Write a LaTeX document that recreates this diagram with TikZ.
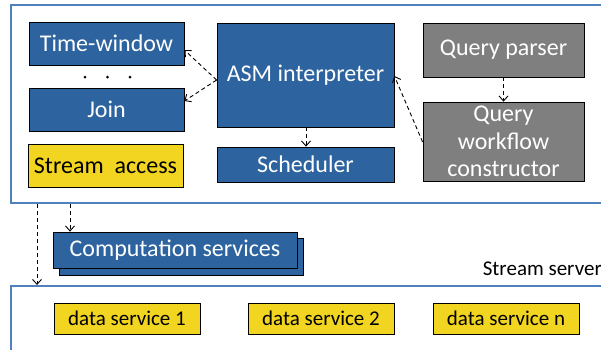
\documentclass[tikz,border=0pt]{standalone}
\usepackage{fontspec}
\setmainfont{Carlito}
\usetikzlibrary{arrows.meta}
\definecolor{boxblue}{HTML}{2D64A0}
\definecolor{boxgray}{HTML}{7F7F7F}
\definecolor{boxyellow}{HTML}{F2D520}
\definecolor{frameblue}{HTML}{4F81BD}
\tikzset{
  box/.style={draw=black, line width=0.8pt, inner sep=0pt, align=center},
  bluebox/.style={box, fill=boxblue, text=white, font=\fontsize{24}{27}\selectfont},
  graybox/.style={box, fill=boxgray, text=white, font=\fontsize{24}{27.5}\selectfont},
  yellowbox/.style={box, fill=boxyellow, text=black, font=\fontsize{24}{27}\selectfont},
  dsbox/.style={box, fill=boxyellow, text=black, font=\fontsize{21}{24}\selectfont, minimum width=146pt, minimum height=31pt},
  frame/.style={draw=frameblue, line width=1.5pt},
  dasharrow/.style={draw=black, line width=0.9pt, dash pattern=on 4pt off 3pt, -{Straight Barb[length=5pt,width=9pt]}}
}
\begin{document}
\begin{tikzpicture}[x=1pt,y=-1pt]
\useasboundingbox (0,0) rectangle (601,349);
% frames
\draw[frame] (620,5) -- (11,5) -- (11,203) -- (620,203);
\draw[frame] (620,286) -- (11,286) -- (11,360);
% top boxes
\node[bluebox, minimum width=155pt, minimum height=43pt] (tw) at (106.5,43.5) {Time-window};
\node[bluebox, minimum width=155pt, minimum height=43pt] (join) at (106.5,109.5) {Join};
\node[yellowbox, minimum width=155pt, minimum height=43pt] (sa) at (105.5,165.5) {Stream\ \ access};
\node[bluebox, minimum width=177pt, minimum height=104pt] (asm) at (305.5,75) {ASM interpreter};
\node[bluebox, minimum width=177pt, minimum height=35pt] (sch) at (305.5,164.5) {Scheduler};
\node[graybox, minimum width=161pt, minimum height=54pt] (qp) at (503.5,50) {Query parser};
\node[graybox, minimum width=161pt, minimum height=79pt] (qwc) at (503.5,141.5) {Query\\workflow\\constructor};
% dots
\fill (85,77) circle (1.5pt) (107.5,77) circle (1.5pt) (130,77) circle (1.5pt);
% computation services
\node[bluebox, minimum width=244pt, minimum height=37pt] (csback) at (181,256.5) {};
\node[bluebox, minimum width=244pt, minimum height=36pt] (cs) at (175,250) {Computation services};
% stream server label
\node[anchor=east, inner sep=0pt, font=\fontsize{21}{24}\selectfont] (ss) at (602,269) {Stream server};
% data services
\node[dsbox] (ds1) at (127,318.5) {data service 1};
\node[dsbox] (ds2) at (321,318.5) {data service 2};
\node[dsbox] (dsn) at (506,318.5) {data service n};
% connector end points
\coordinate (f1) at (37,204);
\coordinate (f1e) at (37,285);
\coordinate (f2) at (70,204);
% arrows
\draw[dasharrow] (asm.west |- 0,80) -- (tw.east |- 0,50);
\draw[dasharrow] (asm.west |- 0,80) -- (join.east |- 0,101);
\draw[dasharrow] (qp.south) -- (qwc.north);
\draw[dasharrow] (qwc.west |- 0,142) -- (asm.east |- 0,76);
\draw[dasharrow] (asm.south -| 306,0) -- (sch.north -| 306,0);
\draw[dasharrow] (f1) -- (f1e);
\draw[dasharrow] (f2) -- (cs.north -| f2);
\end{tikzpicture}
\end{document}
